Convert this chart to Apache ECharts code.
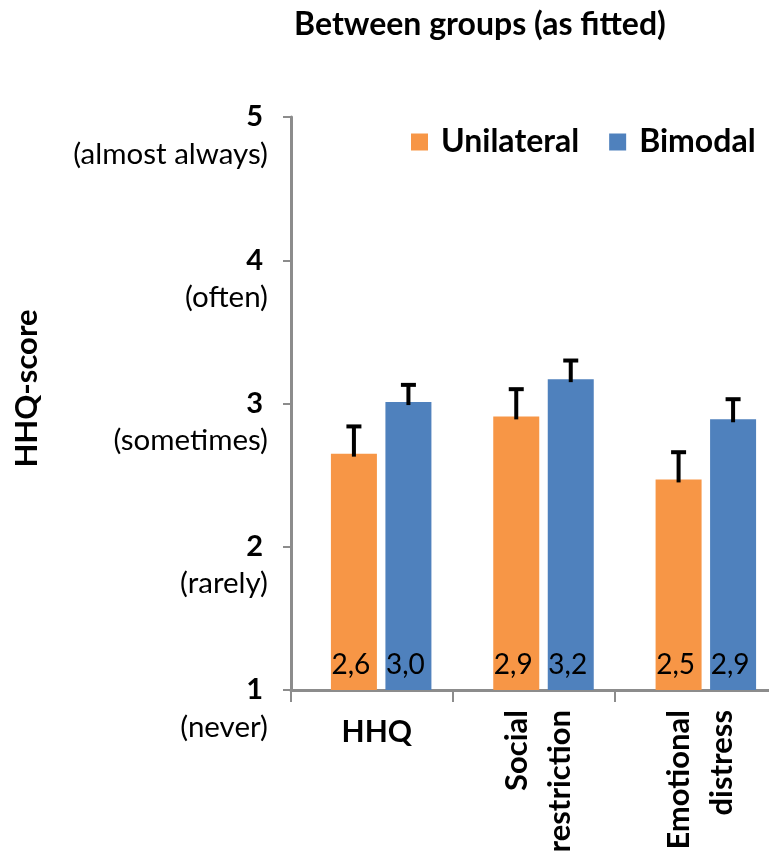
<!DOCTYPE html>
<html><head><meta charset="utf-8">
<script src="https://cdn.jsdelivr.net/npm/echarts@6/dist/echarts.min.js"></script>
<style>html,body{margin:0;padding:0;background:#fff}#c{width:769px;height:860px}</style>
</head><body><div id="c"></div>
<script>
// ---- data ----
const categories = ['HHQ', 'Social\nrestriction', 'Emotional\ndistress'];
const seriesNames = ['Unilateral', 'Bimodal'];
const unilateral = [2.65, 2.91, 2.47];
const bimodal = [3.01, 3.17, 2.89];
const unilateralErr = [0.19, 0.19, 0.19];
const bimodalErr = [0.12, 0.13, 0.14];
const unilateralLabels = ['2,6', '2,9', '2,5'];
const bimodalLabels = ['3,0', '3,2', '2,9'];
const yTickValues = [1, 2, 3, 4, 5];
const yTickNames = ['(never)', '(rarely)', '(sometimes)', '(often)', '(almost always)'];
const titleText = 'Between groups (as fitted)';
const yAxisTitle = 'HHQ-score';

// ---- style ----
const FONT = 'Lato, "Open Sans", sans-serif';
const ORANGE = '#F79646';
const BLUE = '#4F81BD';
const AXIS = '#8c8c8c';
const BAR_W = 46;
const BAR_GAP_PX = 8.5;
const HALF = (BAR_W + BAR_GAP_PX) / 2;

const chart = echarts.init(document.getElementById('c'), null, {renderer: 'canvas'});

function errorSeries(vals, errs, side) {
  return {
    type: 'custom', xAxisIndex: 1, yAxisIndex: 1, silent: true, z: 10,
    data: vals.map((v, i) => [i, v, v + errs[i]]),
    renderItem: function (params, api) {
      const base = api.coord([api.value(0), api.value(1)]);
      const top = api.coord([api.value(0), api.value(2)]);
      const x = base[0] + side * HALF;
      return {
        type: 'group',
        children: [
          {type: 'line', shape: {x1: x, y1: base[1] + 3, x2: x, y2: top[1]}, style: {stroke: '#000', lineWidth: 4}},
          {type: 'line', shape: {x1: x - 7.5, y1: top[1], x2: x + 7.5, y2: top[1]}, style: {stroke: '#000', lineWidth: 4}}
        ]
      };
    }
  };
}

function barLabel(labels) {
  return {
    show: true, position: 'insideBottom', distance: 11, offset: [-3, 0],
    formatter: p => labels[p.dataIndex],
    color: '#000', fontFamily: FONT, fontSize: 28
  };
}

const option = {
  backgroundColor: '#fff',
  animation: false,
  title: {
    text: titleText, left: 480, textAlign: 'center', top: 9, padding: 0,
    textStyle: {fontFamily: FONT, fontWeight: 'bold', fontSize: 32, color: '#000'}
  },
  legend: {
    data: seriesNames, left: 411, top: 126, padding: 0, icon: 'rect', itemWidth: 17, itemHeight: 17, itemGap: 30,
    textStyle: {fontFamily: FONT, fontWeight: 'bold', fontSize: 32, lineHeight: 32, color: '#000', padding: [0, 0, 0, 8]}
  },
  grid: [
    {left: 291, width: 485, top: 117, bottom: 170, outerBoundsMode: 'none', containLabel: false},
    {left: 300, width: 487, top: 117, bottom: 170, outerBoundsMode: 'none', containLabel: false},
    {left: 296, width: 485, top: 117, bottom: 170, outerBoundsMode: 'none', containLabel: false}
  ],
  xAxis: [
    {
      type: 'category', gridIndex: 0, data: categories, position: 'bottom',
      axisLine: {show: true, lineStyle: {color: AXIS, width: 3}},
      axisTick: {show: true, length: 12, lineStyle: {color: AXIS, width: 2}},
      axisLabel: {show: false}
    },
    {
      type: 'category', gridIndex: 1, data: categories, show: false
    },
    {
      type: 'category', gridIndex: 2, data: categories, position: 'bottom',
      axisLine: {show: false}, axisTick: {show: false},
      axisLabel: {
        interval: 0, margin: 27,
        formatter: (v, i) => (i === 0 ? v : ''),
        fontFamily: FONT, fontWeight: 'bold', fontSize: 30, color: '#000'
      }
    },
    {
      type: 'category', gridIndex: 2, data: categories, position: 'bottom', offset: 0,
      axisLine: {show: false}, axisTick: {show: false},
      axisLabel: {
        interval: 0, margin: 20, rotate: 90, lineHeight: 43,
        formatter: (v, i) => (i === 0 ? '' : v),
        fontFamily: FONT, fontWeight: 'bold', fontSize: 31, color: '#000'
      }
    }
  ],
  yAxis: [
    {
      type: 'value', gridIndex: 0, min: 1, max: 5, interval: 1,
      name: yAxisTitle, nameLocation: 'middle', nameRotate: 90, nameGap: 249,
      nameTextStyle: {fontFamily: FONT, fontWeight: 'bold', fontSize: 31, color: '#000', padding: [0, 0, 0, 30]},
      axisLine: {show: true, lineStyle: {color: AXIS, width: 3}},
      axisTick: {show: true, length: 8, lineStyle: {color: AXIS, width: 2}},
      splitLine: {show: false},
      axisLabel: {
        margin: 23, align: 'right',
        formatter: v => {
          const k = yTickValues.indexOf(v);
          return '{e| }\n{n|' + v + '}\n{d|' + yTickNames[k] + '}';
        },
        rich: {
          e: {fontSize: 10, lineHeight: 37},
          n: {fontFamily: FONT, fontWeight: 'bold', fontSize: 29, lineHeight: 37, color: '#000', padding: [0, 5, 0, 0], align: 'right'},
          d: {fontFamily: FONT, fontSize: 29.5, lineHeight: 37, color: '#000', align: 'right'}
        }
      }
    },
    {type: 'value', gridIndex: 1, min: 1, max: 5, interval: 1, show: false, splitLine: {show: false}},
    {type: 'value', gridIndex: 2, min: 1, max: 5, interval: 1, show: false, splitLine: {show: false}}
  ],
  series: [
    {
      name: seriesNames[0], type: 'bar', xAxisIndex: 1, yAxisIndex: 1, data: unilateral,
      barWidth: BAR_W, barGap: (BAR_GAP_PX / BAR_W * 100) + '%',
      itemStyle: {color: ORANGE}, label: barLabel(unilateralLabels)
    },
    {
      name: seriesNames[1], type: 'bar', xAxisIndex: 1, yAxisIndex: 1, data: bimodal,
      barWidth: BAR_W, barGap: (BAR_GAP_PX / BAR_W * 100) + '%',
      itemStyle: {color: BLUE}, label: barLabel(bimodalLabels)
    },
    errorSeries(unilateral, unilateralErr, -1),
    errorSeries(bimodal, bimodalErr, 1)
  ]
};
chart.setOption(option);
</script>
</body></html>
